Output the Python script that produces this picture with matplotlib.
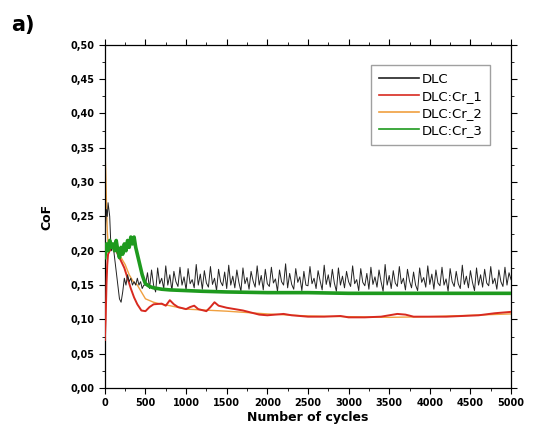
import numpy as np
import matplotlib.pyplot as plt
from matplotlib.ticker import MultipleLocator, FuncFormatter

# --- data ---
dlc_x_start = [0, 10, 20, 30, 40, 50, 60, 70, 80, 100, 120, 140, 160, 180, 200,
               220, 240, 260, 280, 300, 320, 340, 360, 380, 400, 420, 440, 460, 480]
dlc_y_start = [0.20, 0.24, 0.26, 0.25, 0.27, 0.26, 0.25, 0.22, 0.20, 0.21, 0.19,
               0.17, 0.15, 0.13, 0.125, 0.14, 0.16, 0.15, 0.165, 0.155, 0.16, 0.15,
               0.155, 0.15, 0.16, 0.15, 0.155, 0.145, 0.15]
dlc_x_rest = list(range(500, 5001, 25))
dlc_y_rest = [
    0.150, 0.168, 0.145, 0.172, 0.150, 0.140, 0.175, 0.152, 0.160, 0.145,
    0.178, 0.150, 0.165, 0.142, 0.170, 0.155, 0.148, 0.176, 0.150, 0.162,
    0.143, 0.174, 0.152, 0.158, 0.146, 0.180, 0.150, 0.166, 0.144, 0.171,
    0.153, 0.147, 0.177, 0.151, 0.160, 0.142, 0.173, 0.155, 0.149, 0.169,
    0.145, 0.179, 0.150, 0.163, 0.146, 0.172, 0.154, 0.141, 0.175, 0.152,
    0.161, 0.144, 0.170, 0.156, 0.147, 0.178, 0.150, 0.164, 0.143, 0.173,
    0.152, 0.148, 0.176, 0.153, 0.159, 0.141, 0.172, 0.155, 0.150, 0.181,
    0.146, 0.167, 0.151, 0.144, 0.174, 0.154, 0.162, 0.142, 0.170, 0.150,
    0.149, 0.177, 0.152, 0.160, 0.145, 0.171, 0.156, 0.143, 0.179, 0.151,
    0.165, 0.147, 0.173, 0.153, 0.141, 0.175, 0.150, 0.163, 0.146, 0.170,
    0.155, 0.148, 0.178, 0.152, 0.158, 0.142, 0.174, 0.154, 0.149, 0.167,
    0.144, 0.176, 0.151, 0.162, 0.147, 0.172, 0.155, 0.141, 0.180, 0.150,
    0.164, 0.145, 0.171, 0.153, 0.148, 0.177, 0.152, 0.160, 0.143, 0.173,
    0.156, 0.146, 0.169, 0.150, 0.142, 0.175, 0.154, 0.161, 0.147, 0.178,
    0.151, 0.166, 0.144, 0.172, 0.153, 0.149, 0.176, 0.150, 0.159, 0.141,
    0.174, 0.155, 0.148, 0.170, 0.152, 0.145, 0.179, 0.151, 0.163, 0.146,
    0.171, 0.154, 0.142, 0.175, 0.150, 0.165, 0.147, 0.173, 0.153, 0.149,
    0.177, 0.152, 0.160, 0.144, 0.172, 0.155, 0.148, 0.176, 0.150, 0.168,
    0.158]
dlc_x = dlc_x_start + dlc_x_rest
dlc_y = dlc_y_start + dlc_y_rest

cr1_x = [0, 10, 20, 30, 40, 60, 80, 100, 120, 140, 160, 180, 200, 240, 280, 320,
         360, 400, 450, 500, 550, 600, 700, 750, 800, 850, 900, 1000, 1050, 1100,
         1150, 1250, 1300, 1350, 1400, 1500, 1600, 1700, 1800, 1900, 2000, 2100,
         2200, 2300, 2500, 2700, 2900, 3000, 3200, 3400, 3500, 3600, 3700, 3800,
         4000, 4200, 4400, 4600, 4800, 5000]
cr1_y = [0.07, 0.10, 0.15, 0.18, 0.195, 0.20, 0.205, 0.205, 0.20, 0.20, 0.195,
         0.19, 0.185, 0.175, 0.16, 0.145, 0.132, 0.122, 0.113, 0.112, 0.118, 0.122,
         0.123, 0.12, 0.128, 0.122, 0.118, 0.115, 0.118, 0.12, 0.115, 0.112,
         0.118, 0.125, 0.12, 0.117, 0.115, 0.113, 0.11, 0.107, 0.106, 0.107,
         0.108, 0.106, 0.104, 0.104, 0.105, 0.103, 0.103, 0.104, 0.106, 0.108,
         0.107, 0.104, 0.104, 0.104, 0.105, 0.106, 0.109, 0.111]

cr2_x = [0, 10, 20, 30, 40, 60, 100, 150, 200, 250, 300, 350, 400, 450, 500, 600,
         700, 800, 1000, 1500, 2000, 2500, 3000, 3500, 4000, 4500, 5000]
cr2_y = [0.35, 0.32, 0.27, 0.23, 0.21, 0.20, 0.205, 0.20, 0.19, 0.18, 0.165,
         0.155, 0.15, 0.14, 0.13, 0.125, 0.122, 0.12, 0.115, 0.112, 0.108, 0.105,
         0.104, 0.103, 0.104, 0.106, 0.108]

cr3_x = [0, 20, 40, 60, 80, 100, 120, 140, 160, 180, 200, 220, 240, 260, 280, 300,
         320, 340, 360, 380, 400, 420, 440, 460, 480, 500, 550, 600, 700, 800,
         1000, 1200, 1500, 2000, 2500, 3000, 3500, 4000, 4500, 5000]
cr3_y = [0.19, 0.21, 0.20, 0.215, 0.205, 0.21, 0.20, 0.215, 0.20, 0.19, 0.205,
         0.195, 0.21, 0.20, 0.215, 0.205, 0.22, 0.21, 0.22, 0.205, 0.195, 0.185,
         0.175, 0.165, 0.158, 0.152, 0.148, 0.146, 0.144, 0.143, 0.142, 0.141,
         0.140, 0.139, 0.139, 0.138, 0.138, 0.138, 0.138, 0.138]

# --- figure ---
fig = plt.figure(figsize=(5.46, 4.44), dpi=100)
ax = fig.add_axes([0.192, 0.126, 0.744, 0.773])

ax.plot(cr2_x, cr2_y, color='#f0a040', lw=1.0, label='DLC:Cr_2', zorder=2)
ax.plot(cr1_x, cr1_y, color='#d82a20', lw=1.4, label='DLC:Cr_1', zorder=3)
ax.plot(dlc_x, dlc_y, color='#222222', lw=0.7, label='DLC', zorder=4)
ax.plot(cr3_x, cr3_y, color='#1e9a1e', lw=2.6, label='DLC:Cr_3', zorder=5)

ax.set_xlim(0, 5000)
ax.set_ylim(0, 0.5)
ax.xaxis.set_major_locator(MultipleLocator(500))
ax.xaxis.set_minor_locator(MultipleLocator(250))
ax.yaxis.set_major_locator(MultipleLocator(0.05))
ax.yaxis.set_minor_locator(MultipleLocator(0.025))
ax.yaxis.set_major_formatter(FuncFormatter(lambda v, p: f"{v:.2f}".replace('.', ',')))

ax.tick_params(which='both', direction='out', top=True, right=True,
               labeltop=False, labelright=False)
ax.tick_params(which='major', length=4, width=0.8, labelsize=7)
ax.tick_params(which='minor', length=2, width=0.6)
for lab in ax.get_xticklabels() + ax.get_yticklabels():
    lab.set_fontweight('bold')
for s in ax.spines.values():
    s.set_linewidth(0.9)

ax.set_xlabel('Number of cycles', fontsize=9, fontweight='bold', labelpad=2)
ax.set_ylabel('CoF', fontsize=9, fontweight='bold', labelpad=12)

h, l = ax.get_legend_handles_labels()
order = [2, 1, 0, 3]
leg = ax.legend([h[i] for i in order], [l[i] for i in order],
                loc='upper right', bbox_to_anchor=(0.965, 0.96), fontsize=9.5,
                handlelength=3.0, handletextpad=0.2, labelspacing=0.3,
                borderpad=0.6, fancybox=False, edgecolor='#888888')
for line in leg.get_lines():
    line.set_linewidth(1.2)

fig.text(0.02, 0.93, 'a)', fontsize=15, fontweight='bold')

fig.savefig('out.png', dpi=100)
